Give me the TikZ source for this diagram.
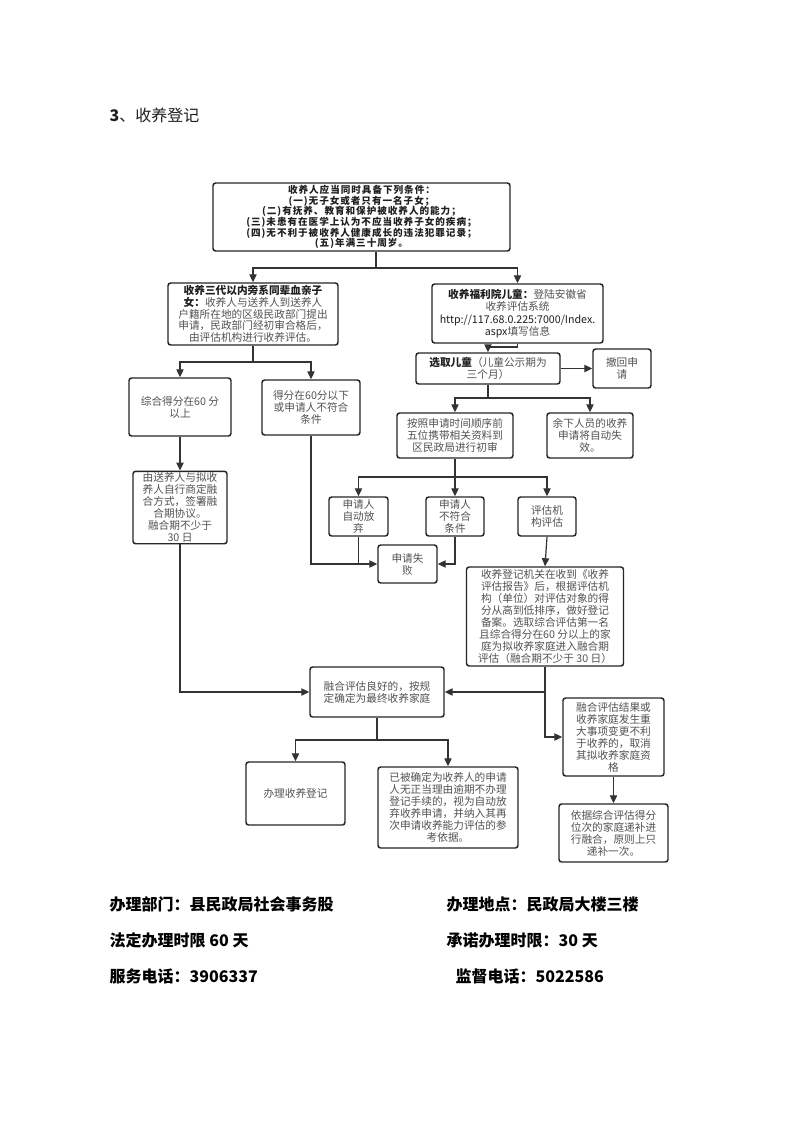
\documentclass[tikz,border=0pt]{standalone}
\usepackage{fontspec}
\setmainfont{Noto Sans CJK SC}
\usetikzlibrary{arrows.meta}
\begin{document}
\begin{tikzpicture}[x=0.75pt,y=-0.75pt,
  box/.style={draw=black!85, line width=1.1pt, rounded corners=2pt, align=center, inner sep=1pt,
              font=\fontsize{8}{9}\selectfont, text=black!68},
  sz/.style 2 args={minimum width=#1*0.75pt, minimum height=#2*0.75pt},
  arr/.style={-{Triangle[length=6pt,width=5.5pt]}, line width=0.9pt, draw=black!80},
  ln/.style={line width=0.9pt, draw=black!80},
  dk/.style={text=black!88}]
\fill[white] (0,0) rectangle (793,1122);
\useasboundingbox (0,0) rectangle (793,1122);

\node[anchor=west, font=\fontsize{12}{14}\selectfont, dk] (title) at (105,115) {\textbf{3}、收养登记};

\node[box, sz={297}{68}, inner sep=0.5pt, text=black!88, font=\bfseries\fontsize{7.2}{7.95}\selectfont\addfontfeature{LetterSpace=10}] (top) at (361.5,217)
 {收养人应当同时具备下列条件：\\(一)无子女或者只有一名子女；\\(二)有抚养、教育和保护被收养人的能力；\\(三)未患有在医学上认为不应当收养子女的疾病；\\(四)无不利于被收养人健康成长的违法犯罪记录；\\(五)年满三十周岁。};

\node[box, sz={170}{62}, font=\fontsize{8}{8.8}\selectfont] (L1) at (253,314)
 {{\bfseries\color{black!88}收养三代以内旁系同辈血亲子}\\{\bfseries\color{black!88}女：}收养人与送养人到送养人\\户籍所在地的区级民政部门提出\\申请，民政部门经初审合格后，\\由评估机构进行收养评估。};

\node[box, sz={171}{59}, font=\fontsize{8}{9.2}\selectfont] (R1) at (517.5,313.5)
 {{\bfseries\color{black!88}收养福利院儿童：}登陆安徽省\\收养评估系统\\{\color{black!88}http://117.68.0.225:7000/Index.}\\{\color{black!88}aspx}填写信息};

\node[box, sz={144}{31}] (sel) at (488,368.5) {{\bfseries\color{black!88}选取儿童}（儿童公示期为\\三个月）};
\node[box, sz={58}{39}] (withdraw) at (622,368.5) {撤回申\\请};

\node[box, sz={116}{45}] (first5) at (455,435.5) {按照申请时间顺序前\\五位携带相关资料到\\区民政局进行初审};
\node[box, sz={86}{45}] (rest) at (590,435.5) {余下人员的收养\\申请将自动失\\效。};

\node[box, sz={102}{58}] (score60) at (180,407) {综合得分在60 分\\以上};
\node[box, sz={98}{55}] (below60) at (311,407.5) {得分在60分以下\\或申请人不符合\\条件};

\node[box, sz={94}{69}] (agree) at (180,507.5) {由送养人与拟收\\养人自行商定融\\合方式，签署融\\合期协议。\\融合期不少于\\30 日};

\node[box, sz={59}{39}] (giveup) at (358.5,516.5) {申请人\\自动放\\弃};
\node[box, sz={58}{39}] (notq) at (455,516.5) {申请人\\不符合\\条件};
\node[box, sz={58}{39}] (evalorg) at (547,516.5) {评估机\\构评估};

\node[box, sz={59}{38}] (fail) at (407.5,564) {申请失\\败};

\node[box, sz={157}{99}] (reg) at (545,616.5) {收养登记机关在收到《收养\\评估报告》后，根据评估机\\构（单位）对评估对象的得\\分从高到低排序，做好登记\\备案。选取综合评估第一名\\且综合得分在60 分以上的家\\庭为拟收养家庭进入融合期\\评估（融合期不少于 30 日）};

\node[box, sz={134}{50}] (good) at (377,692) {融合评估良好的，按规\\定确定为最终收养家庭};

\node[box, sz={101}{78}] (cancel) at (613.5,737) {融合评估结果或\\收养家庭发生重\\大事项变更不利\\于收养的，取消\\其拟收养家庭资\\格};

\node[box, sz={99}{63}] (handle) at (295.5,793.5) {办理收养登记};
\node[box, sz={140}{81}] (late) at (448,807.5) {已被确定为收养人的申请\\人无正当理由逾期不办理\\登记手续的，视为自动放\\弃收养申请，并纳入其再\\次申请收养能力评估的参\\考依据。};
\node[box, sz={109}{58}] (fill) at (613.5,833) {依据综合评估得分\\位次的家庭递补进\\行融合，原则上只\\递补一次。};

% connectors
\coordinate (j1) at (376,268);
\draw[ln] (top.south -| j1) -- (j1);
\draw[arr] (j1) -| (L1.north);
\draw[arr] (j1) -| (R1.north);

\coordinate (j2) at (253,362);
\draw[ln] (L1.south) -- (j2);
\draw[arr] (j2) -| (score60.north);
\draw[arr] (j2) -| (below60.north);

\coordinate (j3) at (517.5,347);
\draw[ln] (R1.south) -- (j3);
\draw[arr] (j3) -| (sel.north);

\draw[arr] (sel.east) -- (withdraw.west);

\coordinate (j4) at (488,398);
\draw[ln] (sel.south) -- (j4);
\draw[arr] (j4) -| (first5.north);
\draw[arr] (j4) -| (rest.north);

\coordinate (j5) at (455,477);
\draw[ln] (first5.south) -- (j5);
\draw[arr] (j5) -| (giveup.north);
\draw[arr] (j5) -- (notq.north);
\draw[arr] (j5) -| (evalorg.north);

\draw[arr] (below60.south) |- (fail.west);
\draw[ln] (giveup.south) -- (giveup.south |- fail.west);
\draw[arr] (notq.south) |- (fail.east);

\draw[arr] (evalorg.south) -- (reg.north);
\draw[arr] (score60.south) -- (agree.north);
\draw[arr] (agree.south) |- (good.west);
\draw[arr] (reg.south) |- (cancel.west);
\draw[arr] (reg.south |- good.east) -- (good.east);

\coordinate (j6) at (377,740);
\draw[ln] (good.south) -- (j6);
\draw[arr] (j6) -| (handle.north);
\draw[arr] (j6) -| (late.north);

\draw[arr] (cancel.south) -- (fill.north);

% bottom text
\begin{scope}[every node/.style={anchor=west, font=\bfseries\fontsize{12}{14}\selectfont, text=black}]
\node (b1) at (105,904) {办理部门：县民政局社会事务股};
\node (b2) at (442,904) {办理地点：民政局大楼三楼};
\node (b3) at (105,940) {法定办理时限 60 天};
\node (b4) at (442,940) {承诺办理时限：30 天};
\node (b5) at (105,976) {服务电话：3906337};
\node (b6) at (451,976) {监督电话：5022586};
\end{scope}
\end{tikzpicture}
\end{document}
